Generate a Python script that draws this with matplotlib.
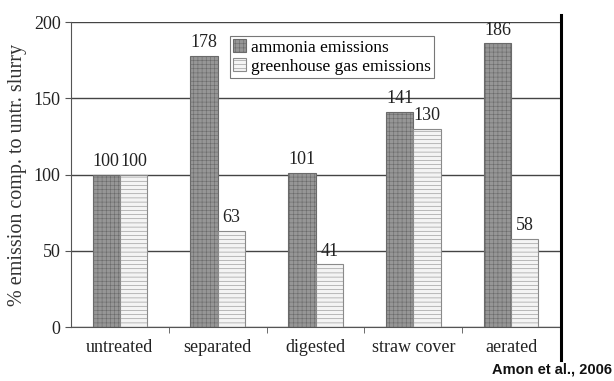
import numpy as np
import matplotlib
matplotlib.use("Agg")
import matplotlib.pyplot as plt
import matplotlib.lines as mlines

# 데이터
categories = ["untreated", "separated", "digested", "straw cover", "aerated"]
ammonia = [100, 178, 101, 141, 186]
ghg = [100, 63, 41, 130, 58]

plt.rcParams['font.family'] = ['Liberation Serif', 'DejaVu Serif']
plt.rcParams['hatch.linewidth'] = 0.4

fig = plt.figure(figsize=(6.14, 3.81), dpi=100)
ax = fig.add_axes([71/614, 1-327/381, (560-71)/614, (327-22)/381])

x = np.arange(len(categories))
w = 0.28
b1 = ax.bar(x - w/2, ammonia, w, color='#969696', edgecolor='#6a6a6a', hatch='++++',
            linewidth=0.8, zorder=3, label='ammonia emissions')
b2 = ax.bar(x + w/2, ghg, w, color='#f4f4f4', edgecolor='#8a8a8a', hatch='----',
            linewidth=0.8, zorder=3, label='greenhouse gas emissions')

# 막대 위 값 표시
for xi, v in zip(x - w/2, ammonia):
    ax.text(xi, v + 3, str(v), ha='center', va='bottom', fontsize=13, color='#222222')
for xi, v in zip(x + w/2, ghg):
    ax.text(xi, v + 3, str(v), ha='center', va='bottom', fontsize=13, color='#222222')

ax.set_xlim(-0.5, 4.5)
ax.set_ylim(0, 200)
ax.set_yticks([0, 50, 100, 150, 200])
ax.set_xticks(x)
ax.set_xticklabels(categories, fontsize=13, color='#222222')
ax.set_xticks(np.arange(0.5, 4.5, 1), minor=True)
ax.tick_params(axis='x', which='major', length=0, pad=9)
ax.tick_params(axis='x', which='minor', length=4, color='#555555')
ax.tick_params(axis='y', labelsize=13, labelcolor='#222222', length=4, color='#555555')
ax.yaxis.grid(True, color='#444444', linewidth=1.0, zorder=0)
ax.set_axisbelow(True)
for s in ['top', 'right']:
    ax.spines[s].set_visible(False)
ax.spines['left'].set_color('#555555')
ax.spines['bottom'].set_color('#555555')
ax.set_ylabel('% emission comp. to untr. slurry', fontsize=14.5, color='#333333', labelpad=5)

leg = ax.legend(loc='upper left', bbox_to_anchor=(0.325, 0.955), fontsize=12.5,
                frameon=True, fancybox=False, edgecolor='#555555',
                handlelength=0.75, handleheight=0.75, handletextpad=0.25,
                borderpad=0.2, labelspacing=0.15, borderaxespad=0)
leg.get_frame().set_linewidth(0.8)
leg.set_zorder(5)

# 오른쪽 굵은 세로선
fig.add_artist(mlines.Line2D([561/614, 561/614], [1-15/381, 1-360/381], color='black', linewidth=2.2))

fig.text(0.997, 1-370/381, 'Amon et al., 2006', ha='right', va='center', fontsize=10.5,
         fontweight='bold', family=['Liberation Sans', 'DejaVu Sans'], color='#111111')

fig.savefig('out.png', dpi=100)
